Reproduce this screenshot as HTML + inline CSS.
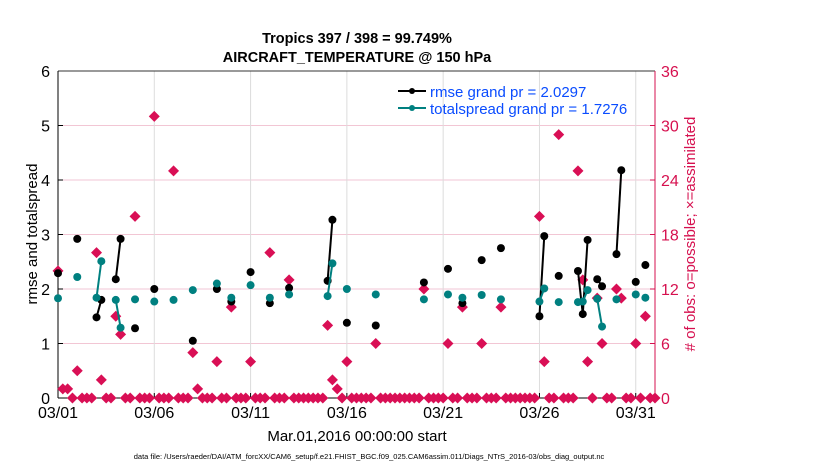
<!DOCTYPE html>
<html><head><meta charset="utf-8"><style>
body{margin:0;background:#fff;}
svg text{font-family:"Liberation Sans",Arial,sans-serif;}
</style></head><body>
<svg id="chart" width="830" height="470" xmlns="http://www.w3.org/2000/svg">
<rect width="830" height="470" fill="#fff"/>
<text x="357" y="43" text-anchor="middle" font-size="14.5" font-weight="bold">Tropics 397 / 398 = 99.749%</text>
<text x="357" y="62" text-anchor="middle" font-size="14.5" font-weight="bold">AIRCRAFT_TEMPERATURE @ 150 hPa</text>
<g id="grid"></g>
<g id="axes"></g>
<g id="marks"></g>
<text transform="translate(37,234) rotate(-90)" text-anchor="middle" font-size="15">rmse and totalspread</text>
<text transform="translate(695,234) rotate(-90)" text-anchor="middle" font-size="15" fill="#d6104f"># of obs: o=possible; ×=assimilated</text>
<text x="357" y="441" text-anchor="middle" font-size="15">Mar.01,2016 00:00:00 start</text>
<text x="369" y="459" text-anchor="middle" font-size="7.5">data file: /Users/raeder/DAI/ATM_forcXX/CAM6_setup/f.e21.FHIST_BGC.f09_025.CAM6assim.011/Diags_NTrS_2016-03/obs_diag_output.nc</text>
<g id="legend">
<line x1="398" y1="91" x2="426" y2="91" stroke="#000" stroke-width="2"/><circle cx="412" cy="91" r="3" fill="#000"/>
<text x="430" y="97" font-size="15" fill="#0a4cff">rmse grand pr = 2.0297</text>
<line x1="398" y1="108" x2="426" y2="108" stroke="#008080" stroke-width="2"/><circle cx="412" cy="108" r="3" fill="#008080"/>
<text x="430" y="114" font-size="15" fill="#0a4cff">totalspread grand pr = 1.7276</text>
</g>
</svg>
<script>
// slot index: 6-hourly steps from Mar 01 00:00
const rmseSlots=[0,4,8,9,12,13,16,20,28,33,36,40,44,48,56,57,60,66,76,81,84,88,92,100,101,104,108,109,110,112,113,116,117,120,122];
const rmseVals=[2.29,2.92,1.48,1.80,2.18,2.92,1.28,2.0,1.05,2.0,1.77,2.31,1.74,2.02,2.15,3.27,1.38,1.33,2.12,2.37,1.74,2.53,2.75,1.50,2.97,2.24,2.33,1.54,2.90,2.18,2.05,2.64,4.18,2.13,2.44];
const spreadVals=[1.83,2.22,1.84,2.51,1.80,1.29,1.81,1.77,1.98,2.10,1.84,2.07,1.84,1.90,1.87,2.47,2.0,1.90,1.81,1.90,1.84,1.89,1.81,1.77,2.01,1.76,1.76,1.77,1.98,1.82,1.31,1.81,1.90,1.84];
const spreadSlots=[0,4,8,9,12,13,16,20,24,28,33,36,40,44,48,56,57,60,66,76,81,84,88,92,100,101,104,108,109,110,112,113,116,120,122];
const spreadValsAll=[1.83,2.22,1.84,2.51,1.80,1.29,1.81,1.77,1.80,1.98,2.10,1.84,2.07,1.84,1.90,1.87,2.47,2.0,1.90,1.81,1.90,1.84,1.89,1.81,1.77,2.01,1.76,1.76,1.77,1.98,1.82,1.31,1.81,1.90,1.84];
const obsSlots=[0,1,2,4,8,9,12,13,16,20,24,28,29,33,36,40,44,48,56,57,58,60,66,76,81,84,88,92,100,101,104,108,109,110,112,113,116,117,120,122];
const obsVals=[14,1,1,3,16,2,9,7,20,31,25,5,1,4,10,4,16,13,8,2,1,4,6,12,6,10,6,10,20,4,29,25,13,4,11,6,12,11,6,9];
const nSlots=125;
const xTickLabels=["03/01","03/06","03/11","03/16","03/21","03/26","03/31"];
const xTickDays=[0,5,10,15,20,25,30];
const yTicksLeft=[0,1,2,3,4,5,6];
const yTicksRight=[0,6,12,18,24,30,36];

const L=58,R=655,T=71,B=398,NS="http://www.w3.org/2000/svg";
const xDay=d=>L+d*(R-L)/31;
const xSlot=i=>xDay(i/4);
const yL=v=>B-v*(B-T)/6;
const yR=v=>B-v*(B-T)/36;
function mk(tag,attrs,parent){const e=document.createElementNS(NS,tag);for(const k in attrs)e.setAttribute(k,attrs[k]);parent.appendChild(e);return e;}
const grid=document.getElementById('grid'),axes=document.getElementById('axes'),marks=document.getElementById('marks');

yTicksLeft.forEach(v=>{if(v>0&&v<6){const g=mk('line',{x1:L,x2:R,y1:yL(v),y2:yL(v),stroke:'#f2c6d4','stroke-width':1},grid);

}
const t=mk('text',{x:L-8,y:yL(v)+6,'text-anchor':'end','font-size':16},axes);t.textContent=v;

});
yTicksRight.forEach(v=>{const t=mk('text',{x:R+6,y:yR(v)+6,'font-size':16,fill:'#d6104f'},axes);t.textContent=v;


mk('line',{x1:R-5,x2:R,y1:yR(v),y2:yR(v),stroke:'#d6104f'},axes);
mk('line',{x1:L,x2:L+5,y1:yL(v/6),y2:yL(v/6),stroke:'#000'},axes);});
xTickDays.forEach((d,k)=>{const x=xDay(d);
if(d>0){const g=mk('line',{x1:x,x2:x,y1:T,y2:B,stroke:'#dcdcdc'},grid);

}
mk('line',{x1:x,x2:x,y1:B-5,y2:B,stroke:'#000'},axes);
const t=mk('text',{x:x,y:418,'text-anchor':'middle','font-size':16},axes);t.textContent=xTickLabels[k];

});
mk('line',{x1:L,x2:R,y1:T,y2:T,stroke:'#333'},axes);
mk('line',{x1:L,x2:R,y1:B,y2:B,stroke:'#000'},axes);
mk('line',{x1:L,x2:L,y1:T,y2:B,stroke:'#000'},axes);
mk('line',{x1:R,x2:R,y1:T,y2:B,stroke:'#d6104f'},axes);

// obs diamonds (all slots, zero where not listed)
for(let i=0;i<nSlots;i++){const k=obsSlots.indexOf(i);const v=k>=0?obsVals[k]:0;
const x=xSlot(i),y=yR(v),s=5.5;
const d=mk('path',{d:`M${x} ${y-s}L${x+s} ${y}L${x} ${y+s}L${x-s} ${y}Z`,fill:'#d90f55'},marks);

}

function series(slots,vals,color,name){
for(let k=1;k<slots.length;k++){if(slots[k]-slots[k-1]===1){const l=mk('line',{x1:xSlot(slots[k-1]),y1:yL(vals[k-1]),x2:xSlot(slots[k]),y2:yL(vals[k]),stroke:color,'stroke-width':2},marks);

}}
slots.forEach((s,k)=>{const c=mk('circle',{cx:xSlot(s),cy:yL(vals[k]),r:4,fill:color},marks);

});}
series(rmseSlots,rmseVals,'#000','rmse');
series(spreadSlots,spreadValsAll,'#008080','totalspread');
</script>
</body></html>
